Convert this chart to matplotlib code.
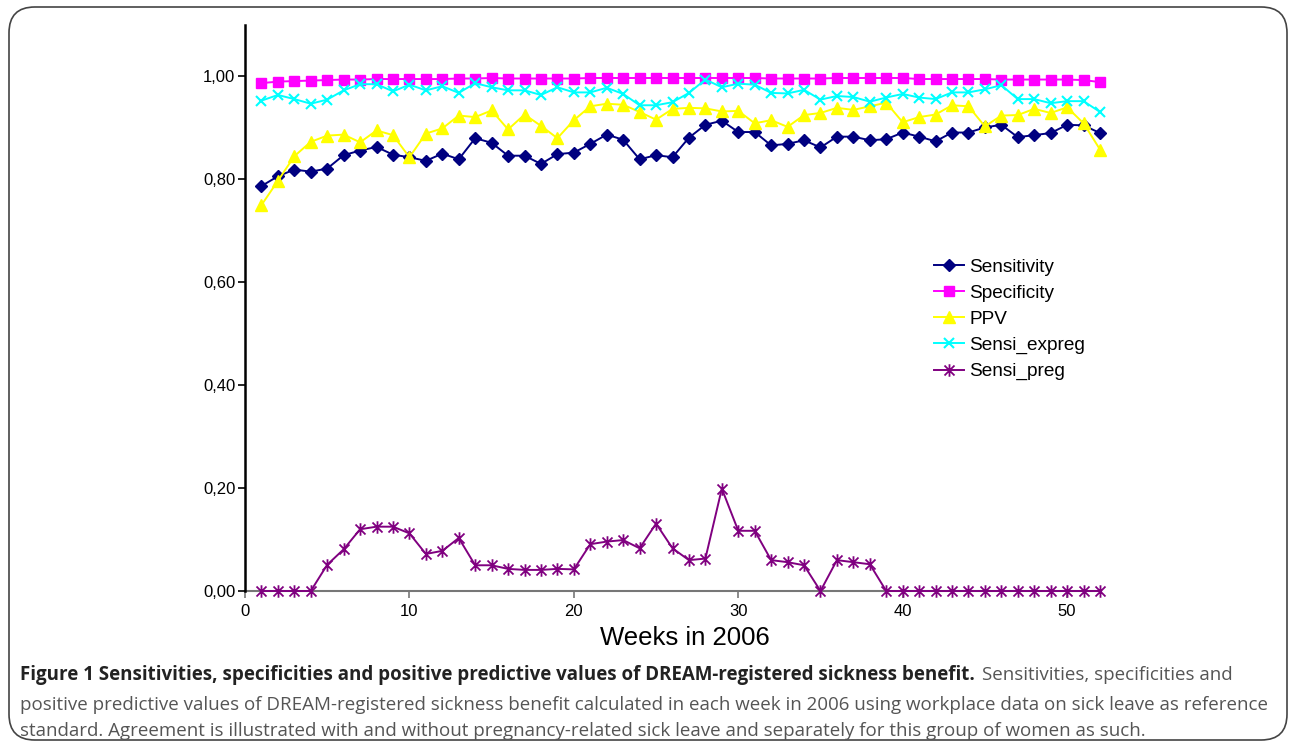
import matplotlib
matplotlib.use("Agg")
import matplotlib.pyplot as plt
from matplotlib.patches import FancyBboxPatch
from matplotlib.path import Path

weeks = list(range(1, 53))
sensitivity = [0.787, 0.806, 0.819, 0.815, 0.821, 0.847, 0.856, 0.863, 0.848, 0.843,
               0.836, 0.850, 0.839, 0.880, 0.871, 0.846, 0.846, 0.830, 0.849, 0.852,
               0.869, 0.887, 0.877, 0.839, 0.847, 0.843, 0.881, 0.906, 0.914, 0.892,
               0.892, 0.866, 0.869, 0.876, 0.862, 0.883, 0.883, 0.876, 0.878, 0.891,
               0.883, 0.874, 0.891, 0.891, 0.901, 0.906, 0.882, 0.886, 0.890, 0.906,
               0.905, 0.890]
specificity = [0.987, 0.990, 0.991, 0.992, 0.993, 0.994, 0.994, 0.995, 0.995, 0.995,
               0.995, 0.995, 0.996, 0.996, 0.997, 0.996, 0.996, 0.996, 0.996, 0.996,
               0.997, 0.997, 0.997, 0.997, 0.997, 0.997, 0.997, 0.997, 0.997, 0.997,
               0.997, 0.996, 0.996, 0.996, 0.996, 0.997, 0.997, 0.997, 0.997, 0.997,
               0.995, 0.995, 0.995, 0.995, 0.995, 0.994, 0.994, 0.994, 0.994, 0.994,
               0.993, 0.989]
ppv = [0.750, 0.797, 0.845, 0.873, 0.885, 0.887, 0.872, 0.895, 0.886, 0.843,
       0.889, 0.899, 0.924, 0.921, 0.934, 0.897, 0.926, 0.904, 0.880, 0.915,
       0.942, 0.947, 0.945, 0.931, 0.916, 0.937, 0.939, 0.938, 0.932, 0.933,
       0.909, 0.915, 0.902, 0.925, 0.929, 0.939, 0.935, 0.942, 0.949, 0.911,
       0.921, 0.926, 0.944, 0.942, 0.903, 0.924, 0.925, 0.937, 0.929, 0.940,
       0.909, 0.858]
sensi_expreg = [0.953, 0.964, 0.956, 0.947, 0.955, 0.973, 0.985, 0.985, 0.971, 0.984,
                0.973, 0.981, 0.968, 0.987, 0.979, 0.973, 0.973, 0.964, 0.979, 0.969,
                0.969, 0.978, 0.966, 0.944, 0.944, 0.950, 0.968, 0.994, 0.979, 0.986,
                0.984, 0.968, 0.967, 0.974, 0.955, 0.962, 0.960, 0.951, 0.959, 0.966,
                0.959, 0.956, 0.969, 0.969, 0.975, 0.983, 0.956, 0.956, 0.948, 0.952,
                0.952, 0.931]
sensi_preg = [0.0, 0.0, 0.0, 0.0, 0.051, 0.081, 0.120, 0.125, 0.125, 0.112,
              0.072, 0.078, 0.103, 0.050, 0.050, 0.043, 0.041, 0.041, 0.043, 0.042,
              0.091, 0.096, 0.099, 0.083, 0.131, 0.083, 0.060, 0.063, 0.199, 0.117,
              0.117, 0.060, 0.056, 0.050, 0.0, 0.060, 0.056, 0.052, 0.0, 0.0,
              0.0, 0.0, 0.0, 0.0, 0.0, 0.0, 0.0, 0.0, 0.0, 0.0,
              0.0, 0.0]
yticks = [0.0, 0.2, 0.4, 0.6, 0.8, 1.0]
ytick_labels = ["0,00", "0,20", "0,40", "0,60", "0,80", "1,00"]
xticks = [0, 10, 20, 30, 40, 50]
xlabel = "Weeks in 2006"
caption_bold = ("Figure 1 Sensitivities, specificities and positive predictive values of "
                "DREAM-registered sickness benefit.")
caption_l1_rest = "Sensitivities, specificities and"
caption_l2 = ("positive predictive values of DREAM-registered sickness benefit calculated in each week "
              "in 2006 using workplace data on sick leave as reference")
caption_l3 = ("standard. Agreement is illustrated with and without pregnancy-related sick leave and "
              "separately for this group of women as such.")

W, H = 1290, 748
fig = plt.figure(figsize=(W / 100, H / 100), dpi=100)
fig.patch.set_facecolor("white")

# rounded frame
frame = FancyBboxPatch((9 / W, 8 / H), (1278) / W, (733) / H,
                       boxstyle="round,pad=0,rounding_size=0.02",
                       transform=fig.transFigure, fill=False, edgecolor="#444444",
                       linewidth=1.2, mutation_aspect=W / H)
fig.patches.append(frame)

ax = fig.add_axes([245 / W, (748 - 591) / H, 855 / W, 566 / H])
ax.set_facecolor("white")

# Excel-style asterisk marker: x plus vertical bar
ast = Path([(-1, -1), (1, 1), (-1, 1), (1, -1), (0, -1.25), (0, 1.25)],
           [Path.MOVETO, Path.LINETO, Path.MOVETO, Path.LINETO, Path.MOVETO, Path.LINETO])

common = dict(linewidth=1.4, clip_on=False)
ax.plot(weeks, sensitivity, color="#000080", marker="D", markersize=6,
        label="Sensitivity", **common)
ax.plot(weeks, specificity, color="#FF00FF", marker="s", markersize=7,
        label="Specificity", **common)
ax.plot(weeks, ppv, color="#FFFF00", marker="^", markersize=8,
        label="PPV", **common)
ax.plot(weeks, sensi_expreg, color="#00FFFF", marker="x", markersize=7, markeredgewidth=1.5,
        label="Sensi_expreg", **common)
ax.plot(weeks, sensi_preg, color="#800080", marker=ast, markersize=9, markeredgewidth=1.3,
        label="Sensi_preg", **common)

ax.set_xlim(0, 52)
ax.set_ylim(0, 1.1)
ax.set_yticks(yticks)
ax.set_yticklabels(ytick_labels)
ax.set_xticks(xticks)
for s in ["top", "right"]:
    ax.spines[s].set_visible(False)
ax.spines["left"].set_color("black")
ax.spines["left"].set_linewidth(1.8)
ax.spines["left"].set_zorder(5)
ax.spines["bottom"].set_color("#777777")
ax.spines["bottom"].set_linewidth(1.5)
ax.spines["bottom"].set_zorder(0.5)
ax.tick_params(axis="y", direction="out", length=5, width=1.2, colors="black",
               labelsize=12, pad=2)
ax.tick_params(axis="x", direction="out", length=5, width=1.2, color="#777777",
               labelcolor="black", labelsize=12, pad=4)
ax.set_xlabel(xlabel, fontsize=18.5)
ax.xaxis.set_label_coords((684.5 - 245) / 855, (591 - 638) / 566)
ax.xaxis.label.set_va("center")
for lab in ax.get_xticklabels() + ax.get_yticklabels():
    lab.set_family(["Liberation Sans", "DejaVu Sans"])
ax.xaxis.label.set_family(["Liberation Sans", "DejaVu Sans"])

leg = ax.legend(loc="upper left", bbox_to_anchor=(924 / W, (748 - 249) / H),
                bbox_transform=fig.transFigure, frameon=False,
                handlelength=1.6, handletextpad=0.27, labelspacing=0.46, borderpad=0,
                prop={"family": ["Liberation Sans", "DejaVu Sans"], "size": 13.7})

# caption
cap_family = ["Liberation Sans Narrow", "Open Sans", "DejaVu Sans"]
renderer = fig.canvas.get_renderer()
x0 = 20 / W
size = 13
t2 = fig.text(x0, (748 - 705) / H, caption_l2, fontsize=size, family=cap_family,
              color="#555555", va="center")
w2 = t2.get_window_extent(renderer).width
size = size * 1240 / w2
t2.set_fontsize(size)
tb = fig.text(x0, (748 - 675) / H, caption_bold, fontsize=size, family=cap_family,
              fontweight="bold", color="#222222", va="center")
bb = tb.get_window_extent(renderer)
fig.text((bb.x1 + 7) / W, (748 - 675) / H, caption_l1_rest, fontsize=size, family=cap_family,
         color="#555555", va="center")
fig.text(x0, (748 - 731) / H, caption_l3, fontsize=size, family=cap_family,
         color="#555555", va="center")

fig.savefig("out.png", dpi=100, facecolor="white")
